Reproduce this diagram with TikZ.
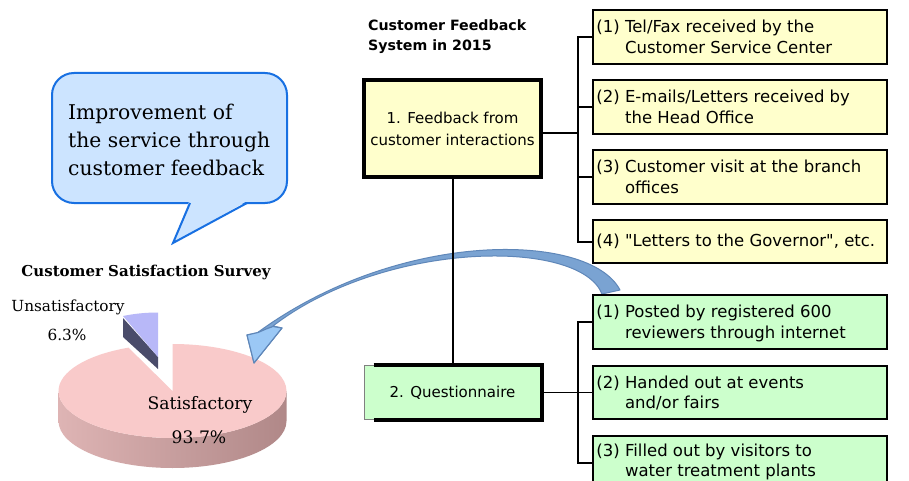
\documentclass[tikz,border=0pt]{standalone}
\usepackage{fontspec}
\setmainfont{DejaVu Serif}
\setsansfont{DejaVu Sans}
\definecolor{ybox}{RGB}{255,255,204}
\definecolor{gbox}{RGB}{204,255,204}
\definecolor{bubfill}{RGB}{204,228,255}
\definecolor{bubline}{RGB}{24,112,226}
\definecolor{piefill}{RGB}{249,202,202}
\definecolor{pieside}{RGB}{222,180,180}
\definecolor{piesidedark}{RGB}{176,136,136}
\definecolor{slicelight}{RGB}{184,184,248}
\definecolor{slicedark}{RGB}{74,76,106}
\definecolor{arrband}{RGB}{122,163,210}
\definecolor{arrhead}{RGB}{155,200,245}
\definecolor{arrline}{RGB}{95,135,185}
\newcommand\boxfont{\sffamily\fontsize{16.5}{20.5}\selectfont}
\newcommand\mainfont{\sffamily\fontsize{15}{22}\selectfont}
\newcommand\twoline[3]{\begin{tabular}{@{}l@{\ }l@{}}#1&#2\\&#3\end{tabular}}
\tikzset{
  sbox/.style={draw=black, line width=1.5, minimum width=294, minimum height=54, inner sep=0},
  sbtext/.style={anchor=west, inner sep=0, align=left, font=\boxfont},
  bigbox/.style={draw=black, line width=4, minimum width=177, align=center,
    inner sep=0, font=\mainfont},
  conn/.style={draw=black, line width=2},
  serifl/.style={font=\fontsize{20.3}{28}\selectfont, inner sep=0, align=left},
}
\begin{document}
\begin{tikzpicture}[x=1pt,y=-1pt]
\clip (0,0) rectangle (909,481);
\fill[white] (0,0) rectangle (909,481);

% speech bubble
\filldraw[fill=bubfill, draw=bubline, line width=2, rounded corners=22]
  (52,73) rectangle (287,203);
\fill[bubfill] (189.5,200.5) -- (173,243) -- (248,200.5) -- cycle;
\draw[bubline, line width=2, line join=miter] (190,203) -- (173,243) -- (247,203);
\node[serifl, anchor=west] (bubtext) at (68,140)
  {Improvement of\\the service through\\customer feedback};

% survey title
\node[font=\bfseries\fontsize{15}{17}\selectfont, inner sep=0] (survey) at (146,272)
  {Customer Satisfaction Survey};

% pie side
\path[left color=pieside, right color=piesidedark]
  (286.5,391) arc[start angle=0, end angle=180, x radius=114, y radius=47]
  -- (58.5,421) arc[start angle=180, end angle=0, x radius=114, y radius=47] -- cycle;
% pie top
\fill[piefill] (172.5,391) -- (172.5,344)
  arc[start angle=-90, end angle=247.3, x radius=114, y radius=47] -- cycle;
% exploded slice
\fill[slicedark] (123,318) -- (158,357) -- (158,369) -- (123,337) -- cycle;
\fill[slicelight] (123,316) .. controls (135,313.5) and (147,312.5) .. (158,312.5)
  -- (158,357) -- cycle;

\node[font=\fontsize{15.3}{20}\selectfont, inner sep=0] (unsat) at (68,307) {Unsatisfactory};
\node[font=\fontsize{15.3}{20}\selectfont, inner sep=0] (unsatp) at (67,335) {6.3\%};
\node[font=\fontsize{17.2}{20}\selectfont, inner sep=0] (sat) at (200,405) {Satisfactory};
\node[font=\fontsize{17.2}{20}\selectfont, inner sep=0] (satp) at (199,437) {93.7\%};

% curved arrow
\filldraw[fill=arrband, draw=arrline, line width=1, line join=round]
  (620,290) .. controls (590,232) and (400,228) .. (257,333)
  -- (247,335) -- (254,363) -- (282,328) -- (273,326)
  .. controls (385,240) and (580,238) .. (602,294) -- cycle;
\filldraw[fill=arrhead, draw=arrline, line width=1.2, line join=round]
  (258,332.5) -- (247,335) -- (254,363) -- (282,328) -- (273,326.5)
  -- (266,329) -- cycle;

% heading
\node[font=\sffamily\bfseries\fontsize{14.2}{20}\selectfont, anchor=west, align=left, inner sep=0]
  (head) at (368,37) {Customer Feedback\\System in 2015};

% main boxes
\node[bigbox, fill=ybox, minimum height=96] (b1) at (452.5,128.5)
  {1. Feedback from\\customer interactions};
\node[minimum width=177, minimum height=54, inner sep=0, fill=gbox,
  draw=gray, line width=1, font=\mainfont] (b2) at (452.5,392.5) {2. Questionnaire};
\draw[line width=4] ([xshift=10]b2.north west) -- (b2.north east) -- (b2.south east)
  -- ([xshift=10]b2.south west);

% yellow sub-boxes
\node[sbox, fill=ybox] (y1) at (740,37) {};
\node[sbox, fill=ybox] (y2) at (740,107) {};
\node[sbox, fill=ybox] (y3) at (740,177) {};
\node[sbox, fill=ybox, minimum height=43] (y4) at (740,241.5) {};
\node[sbtext] (y1t) at ([xshift=4,yshift=-2]y1.west) {\twoline{(1)}{Tel/Fax received by the}{Customer Service Center}};
\node[sbtext] (y2t) at ([xshift=4,yshift=-2]y2.west) {\twoline{(2)}{E-mails/Letters received by}{the Head Office}};
\node[sbtext] (y3t) at ([xshift=4,yshift=-2]y3.west) {\twoline{(3)}{Customer visit at the branch}{offices}};
\node[sbtext] (y4t) at ([xshift=4]y4.west) {(4) \textquotedbl Letters to the Governor\textquotedbl, etc.};

% green sub-boxes
\node[sbox, fill=gbox] (g1) at (740,322) {};
\node[sbox, fill=gbox, minimum height=53] (g2) at (740,392.5) {};
\node[sbox, fill=gbox] (g3) at (740,463) {};
\node[sbtext] (g1t) at ([xshift=4,yshift=-2]g1.west) {\twoline{(1)}{Posted by registered 600}{reviewers through internet}};
\node[sbtext] (g2t) at ([xshift=4,yshift=-2]g2.west) {\twoline{(2)}{Handed out at events}{and/or fairs}};
\node[sbtext] (g3t) at ([xshift=4,yshift=0.5]g3.west) {\twoline{(3)}{Filled out by visitors to}{water treatment plants}};

% connectors
\coordinate (ty) at (578,0);
\coordinate (tg) at (578,0);
\draw[conn] (b1.south) -- (b2.north);
\draw[conn] ([yshift=-4.5]b1.east) -- ([yshift=-4.5]b1.east -| ty);
\draw[conn] (y1.west) -- (y1.west -| ty) -- (y4.west -| ty) -- (y4.west);
\draw[conn] (y2.west) -- (y2.west -| ty);
\draw[conn] (y3.west) -- (y3.west -| ty);
\draw[line width=1.5] (b2.east) -- (g2.west);
\draw[line width=1.5] (g1.west) -- (g1.west -| tg) -- (g3.west -| tg) -- (g3.west);
\end{tikzpicture}
\end{document}
